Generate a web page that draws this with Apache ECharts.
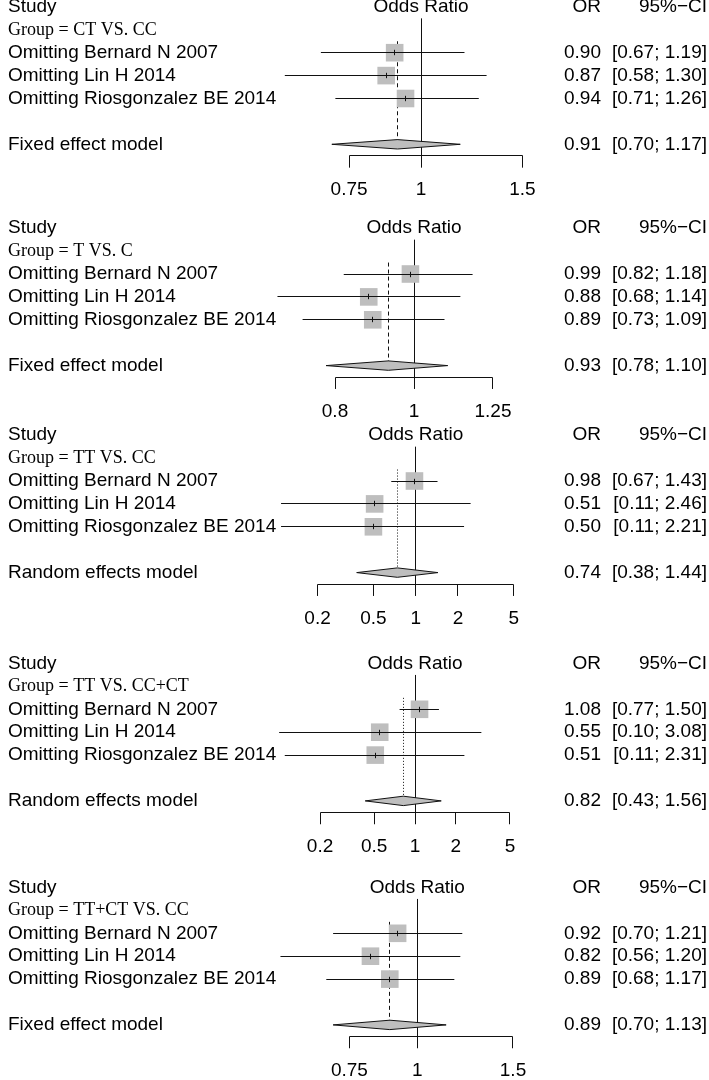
<!DOCTYPE html>
<html><head><meta charset="utf-8">
<script src="https://cdn.jsdelivr.net/npm/echarts@6/dist/echarts.min.js"></script>
<style>html,body{margin:0;padding:0;background:#fff}#c{width:709px;height:1080px}</style>
</head><body><div id="c"></div>
<script>
// ---------------- data ----------------
const groupNames = ['CT VS. CC', 'T VS. C', 'TT VS. CC', 'TT VS. CC+CT', 'TT+CT VS. CC'];
const studyNames = ['Omitting Bernard N 2007', 'Omitting Lin H 2014', 'Omitting Riosgonzalez BE 2014'];
const modelNames = ['Fixed effect model', 'Fixed effect model', 'Random effects model', 'Random effects model', 'Fixed effect model'];
const modelIsRandom = [false, false, true, true, false];
const studyOR    = [[0.90, 0.87, 0.94], [0.99, 0.88, 0.89], [0.98, 0.51, 0.50], [1.08, 0.55, 0.51], [0.92, 0.82, 0.89]];
const studyLower = [[0.67, 0.58, 0.71], [0.82, 0.68, 0.73], [0.67, 0.11, 0.11], [0.77, 0.10, 0.11], [0.70, 0.56, 0.68]];
const studyUpper = [[1.19, 1.30, 1.26], [1.18, 1.14, 1.09], [1.43, 2.46, 2.21], [1.50, 3.08, 2.31], [1.21, 1.20, 1.17]];
const modelOR    = [0.91, 0.93, 0.74, 0.82, 0.89];
const modelLower = [0.70, 0.78, 0.38, 0.43, 0.70];
const modelUpper = [1.17, 1.10, 1.44, 1.56, 1.13];
const tickValues = [[0.75, 1, 1.5], [0.8, 1, 1.25], [0.2, 0.5, 1, 2, 5], [0.2, 0.5, 1, 2, 5], [0.75, 1, 1.5]];
const tickLabels = [['0.75', '1', '1.5'], ['0.8', '1', '1.25'], ['0.2', '0.5', '1', '2', '5'], ['0.2', '0.5', '1', '2', '5'], ['0.75', '1', '1.5']];

// ---------------- layout ----------------
const W = 709;
const ROW = 22.9;
const panelTop = [6.9, 228.2, 435.2, 663.5, 887.5];
const refX = [421, 414, 415.7, 415, 417.3];
const pxPerLn = [250, 354, 61, 59, 236];
const SANS = '"Liberation Sans", Arial, Helvetica, sans-serif';
const SERIF = '"Liberation Serif", "Times New Roman", serif';
const FS = 19;
const INK = '#111';
const GRAY = '#bebebe';
const crisp = v => Math.round(v - 0.5) + 0.5;

const chart = echarts.init(document.getElementById('c'), null, {renderer: 'canvas'});
const grids = [], xAxes = [], yAxes = [], series = [];

for (let p = 0; p < 5; p++) {
  grids.push({left: 0, width: W, top: panelTop[p], height: 8 * ROW});
  xAxes.push({type: 'log', logBase: Math.E, gridIndex: p, show: false,
    min: Math.exp(-refX[p] / pxPerLn[p]), max: Math.exp((W - refX[p]) / pxPerLn[p])});
  yAxes.push({type: 'value', gridIndex: p, min: 0, max: 8, inverse: true, show: false});
  const ax = {xAxisIndex: p, yAxisIndex: p, silent: true, animation: false};

  // reference line at OR = 1
  series.push(Object.assign({type: 'custom', z: 1, data: [[1, 0.5, 6.5]],
    renderItem: (params, api) => {
      const a = api.coord([api.value(0), api.value(1)]);
      const b = api.coord([api.value(0), api.value(2)]);
      const x = crisp(a[0]);
      return {type: 'line', shape: {x1: x, y1: a[1], x2: x, y2: b[1]}, style: {stroke: INK, lineWidth: 1}};
    }}, ax));

  // summary (pooled) line
  series.push(Object.assign({type: 'custom', z: 2, data: [[modelOR[p], 1.5, 6]],
    renderItem: (params, api) => {
      const a = api.coord([api.value(0), api.value(1)]);
      const b = api.coord([api.value(0), api.value(2)]);
      const x = crisp(a[0]);
      return {type: 'line', shape: {x1: x, y1: a[1], x2: x, y2: b[1]},
        style: {stroke: INK, lineWidth: 1, lineDash: modelIsRandom[p] ? [1, 2] : [4, 3]}};
    }}, ax));

  // axis bracket
  const tv = tickValues[p];
  series.push(Object.assign({type: 'custom', z: 3, data: [[tv[0], tv[tv.length - 1], 6.5]],
    renderItem: (params, api) => {
      const a = api.coord([api.value(0), api.value(2)]);
      const b = api.coord([api.value(1), api.value(2)]);
      const y = crisp(a[1]);
      return {type: 'line', shape: {x1: crisp(a[0]), y1: y, x2: crisp(b[0]), y2: y}, style: {stroke: INK, lineWidth: 1}};
    }}, ax));
  series.push(Object.assign({type: 'custom', z: 3, data: tv.map(v => [v, 6.5, 7.02, 8]),
    renderItem: (params, api) => {
      const a = api.coord([api.value(0), api.value(1)]);
      const b = api.coord([api.value(0), api.value(2)]);
      const c = api.coord([api.value(0), api.value(3)]);
      const x = crisp(a[0]);
      return {type: 'group', children: [
        {type: 'line', shape: {x1: x, y1: crisp(a[1]), x2: x, y2: b[1]}, style: {stroke: INK, lineWidth: 1}},
        {type: 'text', style: {x: a[0], y: c[1], text: tickLabels[p][params.dataIndex], font: FS + 'px ' + SANS,
          fill: '#000', align: 'center', verticalAlign: 'middle'}}
      ]};
    }}, ax));

  // individual studies
  series.push(Object.assign({type: 'custom', z: 4,
    data: studyOR[p].map((v, i) => [v, studyLower[p][i], studyUpper[p][i], 2 + i]),
    renderItem: (params, api) => {
      const row = api.value(3);
      const c = api.coord([api.value(0), row]);
      const l = api.coord([api.value(1), row]);
      const h = api.coord([api.value(2), row]);
      const s = 17.6, y = crisp(c[1]), x = crisp(c[0]);
      return {type: 'group', children: [
        {type: 'rect', shape: {x: c[0] - s / 2, y: c[1] - s / 2, width: s, height: s}, style: {fill: GRAY}},
        {type: 'line', shape: {x1: l[0], y1: y, x2: h[0], y2: y}, style: {stroke: INK, lineWidth: 1}},
        {type: 'line', shape: {x1: x, y1: y - 2.7, x2: x, y2: y + 2.7}, style: {stroke: INK, lineWidth: 1}}
      ]};
    }}, ax));

  // pooled diamond
  series.push(Object.assign({type: 'custom', z: 5, data: [[modelOR[p], modelLower[p], modelUpper[p], 6]],
    renderItem: (params, api) => {
      const row = api.value(3);
      const c = api.coord([api.value(0), row]);
      const l = api.coord([api.value(1), row]);
      const h = api.coord([api.value(2), row]);
      const hh = 4.7;
      return {type: 'polygon', shape: {points: [[l[0], c[1]], [c[0], c[1] - hh], [h[0], c[1]], [c[0], c[1] + hh]]},
        style: {fill: GRAY, stroke: INK, lineWidth: 1}};
    }}, ax));

  // text columns
  const texts = [];
  const fmt = v => v.toFixed(2);
  texts.push({row: 0, x: 8, text: 'Study', align: 'left'});
  texts.push({row: 0, atRef: true, text: 'Odds Ratio', align: 'center'});
  texts.push({row: 0, x: 601, text: 'OR', align: 'right'});
  texts.push({row: 0, x: 707, text: '95%\u2212CI', align: 'right'});
  texts.push({row: 1, x: 8, text: 'Group = ' + groupNames[p], align: 'left', serif: true});
  studyNames.forEach((n, i) => {
    texts.push({row: 2 + i, x: 8, text: n, align: 'left'});
    texts.push({row: 2 + i, x: 601, text: fmt(studyOR[p][i]), align: 'right'});
    texts.push({row: 2 + i, x: 707, text: '[' + fmt(studyLower[p][i]) + '; ' + fmt(studyUpper[p][i]) + ']', align: 'right'});
  });
  texts.push({row: 6, x: 8, text: modelNames[p], align: 'left'});
  texts.push({row: 6, x: 601, text: fmt(modelOR[p]), align: 'right'});
  texts.push({row: 6, x: 707, text: '[' + fmt(modelLower[p]) + '; ' + fmt(modelUpper[p]) + ']', align: 'right'});

  series.push(Object.assign({type: 'custom', z: 6, data: texts.map(t => [1, t.row]),
    renderItem: (params, api) => {
      const t = texts[params.dataIndex];
      const c = api.coord([1, api.value(1)]);
      return {type: 'text', style: {x: t.atRef ? c[0] : t.x, y: c[1], text: t.text,
        font: (t.serif ? '18px ' + SERIF : FS + 'px ' + SANS), fill: '#000', align: t.align, verticalAlign: 'middle'}};
    }}, ax));
}

chart.setOption({animation: false, grid: grids, xAxis: xAxes, yAxis: yAxes, series: series});
</script>
</body></html>
